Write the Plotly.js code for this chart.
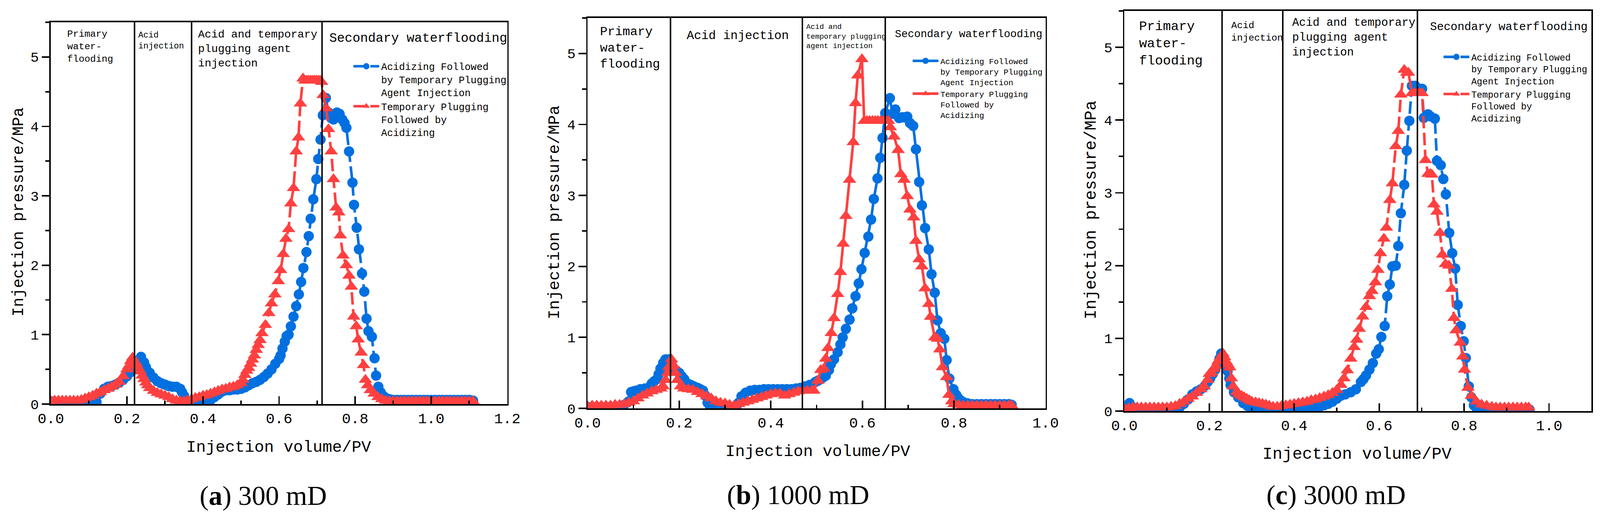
<!DOCTYPE html>
<html>
<head>
<meta charset="UTF-8">
<title>Injection pressure vs injection volume</title>
<script src="https://cdn.plot.ly/plotly-3.0.1.min.js"></script>
<style>
  html, body { margin: 0; padding: 0; background: #ffffff; overflow: hidden; }
  #chart { width: 100vw; height: 100vh; }
</style>
</head>
<body>
<div id="chart"></div>
<script>
// ---------- data ----------
const seriesNames = [
  'Acidizing Followed<br>by Temporary Plugging<br>Agent Injection',
  'Temporary Plugging<br>Followed by<br>Acidizing'
];
const captions = ['(<b>a</b>) 300 mD', '(<b>b</b>) 1000 mD', '(<b>c</b>) 3000 mD'];
const stageNames = [
  ['Primary<br>water-<br>flooding', 'Acid<br>injection', 'Acid and temporary<br>plugging agent<br>injection', 'Secondary waterflooding'],
  ['Primary<br>water-<br>flooding', 'Acid injection', 'Acid and<br>temporary plugging<br>agent injection', 'Secondary waterflooding'],
  ['Primary<br>water-<br>flooding', 'Acid<br>injection', 'Acid and temporary<br>plugging agent<br>injection', 'Secondary waterflooding']
];
const xTitle = 'Injection volume/PV';
const yTitle = 'Injection pressure/MPa';
const xMax = [1.2, 1.0, 1.1];

// stage boundaries (PV)
const aStages = [0.22, 0.37, 0.713];
const bStages = [0.181, 0.469, 0.65];
const cStages = [0.23, 0.373, 0.69];

// (a) 300 mD
const aBlueX = [
  0, 0.01, 0.02, 0.03, 0.04, 0.05, 0.06, 0.07, 0.08, 0.09,
  0.10, 0.11, 0.12, 0.13, 0.14, 0.15, 0.16, 0.17, 0.18, 0.19,
  0.20, 0.21, 0.215, 0.22, 0.23, 0.237, 0.245, 0.25, 0.26, 0.27,
  0.28, 0.29, 0.30, 0.31, 0.32, 0.33, 0.34, 0.345, 0.35, 0.355,
  0.36, 0.37, 0.38, 0.39, 0.40, 0.41, 0.42, 0.43, 0.44, 0.45,
  0.46, 0.47, 0.48, 0.49, 0.50, 0.51, 0.52, 0.53, 0.54, 0.55,
  0.56, 0.57, 0.58, 0.59, 0.60, 0.604, 0.609, 0.615, 0.62, 0.625,
  0.631, 0.638, 0.645, 0.652, 0.658, 0.664, 0.672, 0.678, 0.683, 0.69,
  0.698, 0.703, 0.709, 0.715, 0.723, 0.73, 0.737, 0.743, 0.752, 0.759,
  0.766, 0.772, 0.777, 0.784, 0.793, 0.797, 0.804, 0.81, 0.818, 0.824,
  0.83, 0.835, 0.844, 0.851, 0.855, 0.861, 0.867, 0.873, 0.88, 0.89,
  0.90, 0.91, 0.92, 0.93, 0.94, 0.95, 0.96, 0.97, 0.98, 0.99,
  1.00, 1.01, 1.02, 1.03, 1.04, 1.05, 1.06, 1.07, 1.08, 1.09,
  1.10, 1.11
];
const aBlueY = [
  0.04, 0.02, 0.01, 0, 0, 0, 0, 0, 0, 0,
  0, 0, 0.03, 0.15, 0.22, 0.25, 0.26, 0.28, 0.31, 0.35,
  0.40, 0.46, 0.53, 0.58, 0.62, 0.68, 0.60, 0.53, 0.45, 0.38,
  0.33, 0.30, 0.28, 0.26, 0.25, 0.25, 0.22, 0.17, 0.12, 0.06,
  0.03, 0.01, 0, 0, 0.01, 0.03, 0.06, 0.10, 0.14, 0.18,
  0.20, 0.20, 0.21, 0.21, 0.22, 0.24, 0.27, 0.30, 0.32, 0.35,
  0.39, 0.44, 0.50, 0.58, 0.65, 0.70, 0.80, 0.90, 0.98, 1.00,
  1.12, 1.26, 1.41, 1.58, 1.76, 1.96, 2.19, 2.42, 2.67, 2.95,
  3.24, 3.53, 3.81, 4.16, 4.41, 4.20, 4.12, 4.10, 4.20, 4.18,
  4.10, 4.05, 3.98, 3.64, 3.19, 2.87, 2.54, 2.23, 1.88, 1.62,
  1.23, 1.05, 0.97, 0.66, 0.41, 0.25, 0.17, 0.12, 0.09, 0.07,
  0.06, 0.06, 0.06, 0.06, 0.06, 0.06, 0.06, 0.06, 0.06, 0.06,
  0.06, 0.06, 0.06, 0.06, 0.06, 0.06, 0.06, 0.06, 0.06, 0.06,
  0.06, 0.05
];
const aRedX = [
  0, 0.01, 0.02, 0.03, 0.04, 0.05, 0.06, 0.07, 0.08, 0.09,
  0.10, 0.11, 0.12, 0.13, 0.14, 0.15, 0.16, 0.17, 0.18, 0.19,
  0.20, 0.205, 0.21, 0.215, 0.22, 0.225, 0.23, 0.235, 0.24, 0.245,
  0.25, 0.255, 0.26, 0.27, 0.28, 0.29, 0.30, 0.31, 0.32, 0.33,
  0.34, 0.35, 0.36, 0.37, 0.38, 0.39, 0.40, 0.41, 0.42, 0.43,
  0.44, 0.45, 0.46, 0.47, 0.48, 0.49, 0.50, 0.505, 0.51, 0.515,
  0.52, 0.525, 0.53, 0.535, 0.54, 0.545, 0.55, 0.555, 0.564, 0.573,
  0.58, 0.589, 0.598, 0.604, 0.611, 0.618, 0.625, 0.631, 0.638, 0.645,
  0.651, 0.656, 0.663, 0.668, 0.673, 0.678, 0.683, 0.688, 0.693, 0.698,
  0.703, 0.708, 0.712, 0.716, 0.724, 0.73, 0.737, 0.743, 0.75, 0.757,
  0.761, 0.768, 0.777, 0.784, 0.79, 0.796, 0.803, 0.808, 0.816, 0.822,
  0.827, 0.833, 0.84, 0.85, 0.86, 0.87, 0.88, 0.89, 0.90, 0.91,
  0.92, 0.93, 0.94, 0.95, 0.96, 0.97, 0.98, 0.99, 1.00, 1.01,
  1.02, 1.03, 1.04, 1.05, 1.06, 1.07, 1.08, 1.09, 1.10, 1.11
];
const aRedY = [
  0.04, 0.05, 0.05, 0.05, 0.05, 0.05, 0.05, 0.05, 0.06, 0.08,
  0.10, 0.12, 0.15, 0.17, 0.20, 0.22, 0.25, 0.28, 0.32, 0.40,
  0.50, 0.55, 0.62, 0.67, 0.62, 0.58, 0.52, 0.47, 0.41, 0.36,
  0.31, 0.27, 0.23, 0.19, 0.16, 0.14, 0.12, 0.10, 0.07, 0.05,
  0.04, 0.04, 0.05, 0.07, 0.09, 0.10, 0.12, 0.13, 0.15, 0.17,
  0.19, 0.21, 0.22, 0.24, 0.25, 0.27, 0.30, 0.35, 0.42, 0.48,
  0.52, 0.58, 0.64, 0.70, 0.78, 0.85, 0.92, 1.02, 1.14, 1.31,
  1.45, 1.58, 1.77, 1.93, 2.16, 2.38, 2.52, 2.89, 3.11, 3.64,
  3.84, 4.33, 4.69, 4.66, 4.66, 4.66, 4.66, 4.66, 4.66, 4.66,
  4.66, 4.66, 4.64, 4.45, 4.26, 3.96, 3.64, 3.24, 2.83, 2.76,
  2.43, 2.14, 2.00, 1.85, 1.69, 1.26, 1.12, 0.93, 0.74, 0.56,
  0.35, 0.27, 0.20, 0.15, 0.10, 0.07, 0.05, 0.04, 0.04, 0.04,
  0.04, 0.04, 0.04, 0.04, 0.04, 0.04, 0.04, 0.04, 0.04, 0.04,
  0.04, 0.04, 0.04, 0.04, 0.04, 0.04, 0.04, 0.04, 0.04, 0.04
];

// (b) 1000 mD
const bBlueX = [
  0, 0.01, 0.02, 0.03, 0.04, 0.05, 0.06, 0.07, 0.08, 0.09,
  0.095, 0.10, 0.106, 0.115, 0.125, 0.135, 0.14, 0.145, 0.151, 0.155,
  0.159, 0.165, 0.17, 0.177, 0.183, 0.188, 0.194, 0.20, 0.206, 0.211,
  0.218, 0.225, 0.232, 0.24, 0.246, 0.252, 0.257, 0.262, 0.267, 0.275,
  0.285, 0.295, 0.305, 0.315, 0.325, 0.33, 0.336, 0.345, 0.355, 0.365,
  0.375, 0.385, 0.395, 0.405, 0.415, 0.425, 0.435, 0.445, 0.455, 0.465,
  0.475, 0.485, 0.497, 0.503, 0.509, 0.515, 0.52, 0.527, 0.531, 0.538,
  0.546, 0.552, 0.557, 0.564, 0.572, 0.578, 0.585, 0.592, 0.598, 0.605,
  0.613, 0.619, 0.625, 0.633, 0.639, 0.644, 0.65, 0.66, 0.666, 0.672,
  0.68, 0.686, 0.691, 0.698, 0.704, 0.711, 0.717, 0.724, 0.73, 0.737,
  0.745, 0.751, 0.758, 0.764, 0.771, 0.779, 0.784, 0.79, 0.799, 0.805,
  0.81, 0.815, 0.82, 0.83, 0.84, 0.85, 0.86, 0.87, 0.88, 0.89,
  0.90, 0.91, 0.92, 0.926
];
const bBlueY = [
  0.02, 0.02, 0.02, 0.02, 0.02, 0.02, 0.02, 0.03, 0.05, 0.10,
  0.23, 0.24, 0.25, 0.27, 0.28, 0.30, 0.35, 0.38, 0.41, 0.48,
  0.56, 0.64, 0.69, 0.69, 0.64, 0.56, 0.53, 0.50, 0.45, 0.41,
  0.35, 0.33, 0.31, 0.29, 0.27, 0.25, 0.18, 0.08, 0.03, 0.01,
  0, 0, 0, 0, 0.02, 0.08, 0.17, 0.22, 0.25, 0.26,
  0.26, 0.27, 0.27, 0.27, 0.27, 0.27, 0.27, 0.27, 0.28, 0.29,
  0.31, 0.33, 0.37, 0.39, 0.41, 0.44, 0.46, 0.54, 0.62, 0.69,
  0.79, 0.90, 1.00, 1.12, 1.25, 1.41, 1.58, 1.76, 1.96, 2.19,
  2.42, 2.66, 2.95, 3.24, 3.53, 3.81, 4.16, 4.37, 4.15, 4.21,
  4.09, 4.10, 4.10, 4.11, 4.02, 3.98, 3.65, 3.19, 2.86, 2.54,
  2.24, 1.89, 1.63, 1.24, 1.06, 0.98, 0.68, 0.42, 0.27, 0.19,
  0.14, 0.11, 0.09, 0.07, 0.06, 0.06, 0.06, 0.06, 0.06, 0.06,
  0.06, 0.06, 0.06, 0.05
];
const bRedX = [
  0, 0.01, 0.02, 0.03, 0.04, 0.05, 0.06, 0.07, 0.08, 0.09,
  0.10, 0.11, 0.12, 0.13, 0.14, 0.15, 0.16, 0.165, 0.17, 0.175,
  0.177, 0.183, 0.188, 0.192, 0.196, 0.203, 0.21, 0.22, 0.23, 0.24,
  0.25, 0.26, 0.27, 0.28, 0.29, 0.30, 0.31, 0.32, 0.33, 0.34,
  0.35, 0.36, 0.37, 0.38, 0.39, 0.40, 0.41, 0.42, 0.43, 0.44,
  0.45, 0.46, 0.47, 0.48, 0.49, 0.494, 0.503, 0.509, 0.516, 0.52,
  0.525, 0.532, 0.538, 0.546, 0.552, 0.558, 0.564, 0.572, 0.58, 0.585,
  0.59, 0.599, 0.604, 0.61, 0.616, 0.622, 0.628, 0.634, 0.64, 0.646,
  0.652, 0.657, 0.661, 0.669, 0.678, 0.684, 0.691, 0.698, 0.704, 0.712,
  0.717, 0.724, 0.73, 0.737, 0.745, 0.749, 0.758, 0.764, 0.769, 0.775,
  0.784, 0.789, 0.795, 0.80, 0.81, 0.82, 0.83, 0.84, 0.85, 0.86,
  0.87, 0.88, 0.89, 0.90, 0.91, 0.92, 0.926
];
const bRedY = [
  0.03, 0.04, 0.04, 0.04, 0.04, 0.04, 0.05, 0.05, 0.06, 0.08,
  0.10, 0.14, 0.18, 0.21, 0.24, 0.26, 0.28, 0.31, 0.40, 0.50,
  0.58, 0.69, 0.60, 0.50, 0.40, 0.31, 0.28, 0.27, 0.26, 0.23,
  0.20, 0.17, 0.14, 0.10, 0.08, 0.07, 0.05, 0.04, 0.06, 0.08,
  0.10, 0.12, 0.14, 0.16, 0.18, 0.20, 0.21, 0.21, 0.18, 0.20,
  0.22, 0.24, 0.25, 0.25, 0.25, 0.25, 0.39, 0.54, 0.56, 0.70,
  0.85, 1.06, 1.27, 1.61, 1.92, 2.32, 2.71, 3.22, 3.75, 4.30,
  4.69, 4.92, 4.05, 4.05, 4.05, 4.05, 4.05, 4.05, 4.05, 4.05,
  4.05, 4.05, 3.96, 3.83, 3.64, 3.30, 3.22, 2.99, 2.80, 2.69,
  2.36, 2.10, 2.00, 1.69, 1.47, 1.29, 1.00, 0.98, 0.83, 0.58,
  0.44, 0.19, 0.10, 0.06, 0.05, 0.04, 0.04, 0.04, 0.04, 0.04,
  0.04, 0.04, 0.04, 0.04, 0.04, 0.04, 0.04
];

// (c) 3000 mD
const cBlueX = [
  0, 0.006, 0.012, 0.02, 0.03, 0.04, 0.05, 0.06, 0.07, 0.08,
  0.09, 0.10, 0.11, 0.12, 0.13, 0.14, 0.15, 0.16, 0.17, 0.18,
  0.19, 0.196, 0.202, 0.208, 0.214, 0.219, 0.224, 0.228, 0.232, 0.236,
  0.24, 0.243, 0.247, 0.25, 0.258, 0.268, 0.28, 0.29, 0.30, 0.31,
  0.32, 0.33, 0.34, 0.35, 0.36, 0.37, 0.38, 0.39, 0.40, 0.41,
  0.42, 0.43, 0.44, 0.45, 0.46, 0.47, 0.48, 0.485, 0.49, 0.50,
  0.509, 0.52, 0.533, 0.545, 0.557, 0.563, 0.569, 0.577, 0.585, 0.593,
  0.599, 0.605, 0.613, 0.619, 0.625, 0.631, 0.639, 0.645, 0.651, 0.659,
  0.665, 0.671, 0.677, 0.685, 0.693, 0.701, 0.705, 0.715, 0.721, 0.731,
  0.736, 0.745, 0.751, 0.757, 0.765, 0.772, 0.779, 0.785, 0.792, 0.799,
  0.804, 0.811, 0.817, 0.823, 0.83, 0.84, 0.85, 0.86, 0.87, 0.88,
  0.89, 0.90, 0.91, 0.92, 0.93, 0.94, 0.95, 0.954
];
const cBlueY = [
  0.02, 0.08, 0.11, 0.05, 0.01, 0, 0, 0, 0, 0,
  0, 0, 0.01, 0.02, 0.05, 0.10, 0.16, 0.23, 0.27, 0.30,
  0.35, 0.40, 0.45, 0.51, 0.57, 0.64, 0.72, 0.79, 0.75, 0.68,
  0.62, 0.55, 0.45, 0.36, 0.26, 0.19, 0.11, 0.07, 0.04, 0.02,
  0.01, 0, 0, 0, 0, 0, 0, 0.01, 0.02, 0.02,
  0.03, 0.03, 0.04, 0.05, 0.06, 0.08, 0.10, 0.13, 0.13, 0.17,
  0.21, 0.23, 0.26, 0.30, 0.40, 0.44, 0.49, 0.57, 0.66, 0.79,
  0.85, 1.02, 1.17, 1.58, 1.74, 1.99, 2.00, 2.27, 2.72, 3.11,
  3.58, 3.99, 4.47, 4.47, 4.43, 4.43, 4.03, 4.08, 4.05, 4.02,
  3.44, 3.38, 3.19, 2.98, 2.45, 2.17, 1.96, 1.46, 1.17, 0.96,
  0.73, 0.34, 0.19, 0.08, 0.03, 0.01, 0, 0, 0, 0,
  0, 0, 0, 0, 0, 0.01, 0.01, 0.02
];
const cRedX = [
  0, 0.01, 0.02, 0.03, 0.04, 0.05, 0.06, 0.07, 0.08, 0.09,
  0.10, 0.11, 0.12, 0.13, 0.14, 0.15, 0.16, 0.17, 0.18, 0.188,
  0.196, 0.20, 0.205, 0.211, 0.215, 0.22, 0.226, 0.232, 0.236, 0.24,
  0.244, 0.248, 0.252, 0.256, 0.264, 0.27, 0.276, 0.282, 0.288, 0.294,
  0.30, 0.309, 0.317, 0.325, 0.333, 0.341, 0.35, 0.36, 0.37, 0.38,
  0.39, 0.40, 0.41, 0.42, 0.43, 0.44, 0.45, 0.46, 0.47, 0.48,
  0.49, 0.50, 0.51, 0.517, 0.525, 0.533, 0.541, 0.547, 0.553, 0.561,
  0.569, 0.577, 0.583, 0.591, 0.597, 0.603, 0.611, 0.617, 0.625, 0.631,
  0.639, 0.645, 0.651, 0.659, 0.665, 0.669, 0.677, 0.683, 0.689, 0.695,
  0.701, 0.709, 0.715, 0.72, 0.724, 0.729, 0.736, 0.743, 0.749, 0.756,
  0.764, 0.771, 0.776, 0.781, 0.791, 0.797, 0.801, 0.809, 0.817, 0.829,
  0.841, 0.853, 0.865, 0.875, 0.885, 0.895, 0.905, 0.915, 0.925, 0.935,
  0.945, 0.952
];
const cRedY = [
  0.03, 0.04, 0.05, 0.05, 0.05, 0.05, 0.05, 0.05, 0.05, 0.05,
  0.05, 0.06, 0.07, 0.10, 0.13, 0.17, 0.20, 0.25, 0.30, 0.34,
  0.43, 0.51, 0.53, 0.58, 0.62, 0.68, 0.74, 0.79, 0.74, 0.68,
  0.64, 0.60, 0.45, 0.34, 0.26, 0.23, 0.21, 0.19, 0.17, 0.15,
  0.13, 0.12, 0.11, 0.10, 0.09, 0.075, 0.06, 0.06, 0.07, 0.08,
  0.09, 0.10, 0.11, 0.12, 0.13, 0.15, 0.16, 0.18, 0.20, 0.22,
  0.25, 0.29, 0.36, 0.45, 0.56, 0.72, 0.88, 0.98, 1.13, 1.30,
  1.43, 1.58, 1.65, 1.77, 1.94, 2.17, 2.37, 2.52, 2.90, 3.13,
  3.64, 3.85, 4.35, 4.69, 4.65, 4.65, 4.37, 4.37, 4.37, 4.37,
  4.37, 3.45, 3.26, 3.26, 3.25, 2.84, 2.74, 2.45, 2.15, 2.02,
  2.00, 1.68, 1.28, 1.11, 0.94, 0.75, 0.57, 0.32, 0.21, 0.13,
  0.09, 0.075, 0.06, 0.05, 0.05, 0.05, 0.05, 0.05, 0.05, 0.05,
  0.05, 0.05
];

// ---------- look ----------
// laid out in the reference's 4343x1323 pixel frame, then scaled to the real window
const W = 4343, H = 1323;
const VW = document.documentElement.clientWidth || window.innerWidth;
const VH = document.documentElement.clientHeight || window.innerHeight;
const k = Math.min(VW / W, VH / H);
const z = v => v * k;

const MONO = 'Liberation Mono, DejaVu Sans Mono, monospace';
const SERIF = 'Liberation Serif, DejaVu Serif, serif';
const BLUE = 'rgb(0,112,224)';
const RED = 'rgb(255,64,64)';
const px = v => v / W;
const py = v => 1 - v / H;
// broken line between symbols, as in panels (a) and (c)
const GAPPED = z(34) + 'px,' + z(12) + 'px';

const panels = [
  { box: [138, 1377, 57, 1034], dash: GAPPED, stages: aStages,
    blue: [aBlueX, aBlueY], red: [aRedX, aRedY],
    labels: [[180, 72, 26], [373, 76, 23], [535, 70, 30], [892, 78, 35]],
    legend: [1034, 168, 27],
    xt: [757, 1144, 44], yt: [51, 543, 43], cap: [715, 1268] },
  { box: [1595, 2838, 46, 1045], dash: 'solid', stages: bStages,
    blue: [bBlueX, bBlueY], red: [bRedX, bRedY],
    labels: [[1626, 61, 34], [1862, 72, 33], [2186, 56, 20], [2427, 70, 29]],
    legend: [2552, 154, 22],
    xt: [2220, 1155, 44], yt: [1506, 543, 44], cap: [2166, 1266] },
  { box: [3052, 4320, 28, 1052], dash: GAPPED, stages: cStages,
    blue: [cBlueX, cBlueY], red: [cRedX, cRedY],
    labels: [[3090, 47, 36], [3340, 50, 26], [3505, 40, 31], [3880, 51, 31]],
    legend: [3993, 144, 25],
    xt: [3683, 1163, 45], yt: [2962, 538, 45], cap: [3627, 1266] }
];

const traces = [];
const layout = {
  width: VW, height: VH,
  margin: { l: 0, r: 0, t: 0, b: 0 },
  paper_bgcolor: '#fff', plot_bgcolor: '#fff',
  font: { family: MONO, color: '#000' },
  shapes: [], annotations: []
};

panels.forEach((p, i) => {
  const s = i === 0 ? '' : String(i + 1);
  const [l, r, t, b] = p.box;

  layout['xaxis' + s] = {
    domain: [px(l), px(r)], range: [0, xMax[i]], anchor: 'y' + s,
    showline: true, linewidth: z(4), linecolor: '#000', mirror: true,
    showgrid: false, zeroline: false,
    ticks: 'inside', ticklen: z(21), tickwidth: z(4), tickcolor: '#000',
    tick0: 0, dtick: 0.2, tickformat: '.1f',
    tickfont: { family: MONO, size: z(40), color: '#000' },
    ticklabelstandoff: z(12),
    minor: { dtick: 0.1, ticks: 'inside', ticklen: z(10), tickwidth: z(4), tickcolor: '#000' }
  };
  layout['yaxis' + s] = {
    domain: [py(b), py(t)], range: [0, 5.5], anchor: 'x' + s,
    showline: true, linewidth: z(4), linecolor: '#000', mirror: true,
    showgrid: false, zeroline: false,
    ticks: 'outside', ticklen: z(21), tickwidth: z(4), tickcolor: '#000',
    tick0: 0, dtick: 1,
    tickfont: { family: MONO, size: z(38), color: '#000' },
    ticklabelstandoff: z(8),
    minor: { dtick: 0.5, ticks: 'outside', ticklen: z(11), tickwidth: z(4), tickcolor: '#000' }
  };

  const legName = i === 0 ? 'legend' : 'legend' + (i + 1);
  [[p.blue, BLUE, 'circle', 28, seriesNames[0]],
   [p.red, RED, 'triangle-up', 32, seriesNames[1]]].forEach(([d, col, sym, sz, name]) => {
    traces.push({
      x: d[0], y: d[1], type: 'scatter', mode: 'lines+markers', name: name,
      xaxis: 'x' + s, yaxis: 'y' + s, legend: legName,
      line: { color: col, width: z(7), dash: p.dash },
      marker: { color: col, symbol: sym, size: z(sz) }
    });
  });

  layout[legName] = {
    x: px(p.legend[0] - 80), y: py(p.legend[1] - 0.65 * p.legend[2] - 4),
    xanchor: 'left', yanchor: 'top',
    bgcolor: 'rgba(0,0,0,0)', borderwidth: 0,
    font: { family: MONO, size: z(p.legend[2]), color: '#000' },
    itemwidth: Math.max(30, z(70)), valign: 'top', tracegroupgap: 0
  };

  p.stages.forEach(v => {
    layout.shapes.push({
      type: 'line', xref: 'x' + s, yref: 'y' + s + ' domain',
      x0: v, x1: v, y0: 0, y1: 1, line: { color: '#000', width: z(4) }
    });
  });

  p.labels.forEach(([x, top, size], n) => {
    layout.annotations.push({
      text: stageNames[i][n], xref: 'paper', yref: 'paper',
      x: px(x), y: py(top), xanchor: 'left', yanchor: 'top', align: 'left',
      showarrow: false, font: { family: MONO, size: z(size), color: '#000' }
    });
  });

  layout.annotations.push({
    text: xTitle, xref: 'paper', yref: 'paper', x: px(p.xt[0]), y: py(p.xt[1]),
    xanchor: 'center', yanchor: 'middle', showarrow: false,
    font: { family: MONO, size: z(p.xt[2]), color: '#000' }
  });
  layout.annotations.push({
    text: yTitle, xref: 'paper', yref: 'paper', x: px(p.yt[0]), y: py(p.yt[1]),
    xanchor: 'center', yanchor: 'middle', textangle: -90, showarrow: false,
    font: { family: MONO, size: z(p.yt[2]), color: '#000' }
  });
  layout.annotations.push({
    text: captions[i], xref: 'paper', yref: 'paper', x: px(p.cap[0]), y: py(p.cap[1]),
    xanchor: 'center', yanchor: 'middle', showarrow: false,
    font: { family: SERIF, size: z(74), color: '#000' }
  });
});

Plotly.newPlot('chart', traces, layout, { staticPlot: true });
</script>
</body>
</html>
